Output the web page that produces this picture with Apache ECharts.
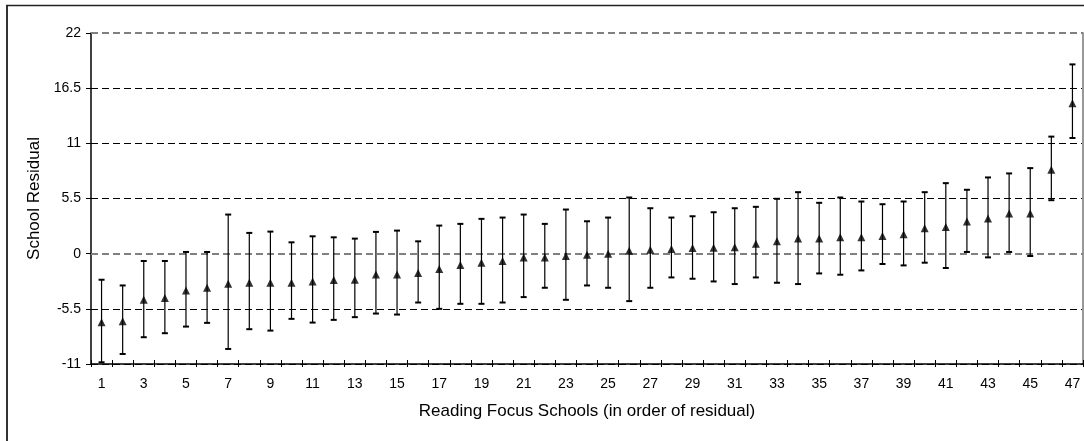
<!DOCTYPE html>
<html>
<head>
<meta charset="utf-8">
<script src="https://cdn.jsdelivr.net/npm/echarts@6/dist/echarts.min.js"></script>
<style>
  html, body { margin: 0; padding: 0; background: #fff; }
  #chart { width: 1084px; height: 441px; }
</style>
</head>
<body>
<div id="chart"></div>
<script>
// Schools ranked by residual, with the estimate and its interval
const schools = Array.from({ length: 47 }, (_, i) => String(i + 1));

const residual = [
  -6.83, -6.73, -4.60, -4.43, -3.67, -3.40, -3.00, -2.90, -2.90, -2.90,
  -2.77, -2.63, -2.60, -2.07, -2.07, -1.93, -1.53, -1.13, -0.90, -0.73,
  -0.37, -0.37, -0.23, -0.10, 0.00, 0.30, 0.40, 0.47, 0.57, 0.60,
  0.63, 1.00, 1.23, 1.50, 1.50, 1.63, 1.63, 1.77, 1.93, 2.53,
  2.67, 3.20, 3.50, 4.00, 4.00, 8.37, 15.00
];

const upper = [
  -2.60, -3.17, -0.73, -0.73, 0.17, 0.17, 3.90, 2.07, 2.20, 1.13,
  1.73, 1.63, 1.50, 2.17, 2.30, 1.23, 2.80, 2.97, 3.47, 3.60,
  3.90, 2.97, 4.40, 3.23, 3.60, 5.60, 4.53, 3.60, 3.73, 4.13,
  4.53, 4.67, 5.47, 6.13, 5.07, 5.60, 5.20, 4.93, 5.20, 6.13,
  7.03, 6.37, 7.60, 8.00, 8.53, 11.67, 18.87
];

const lower = [
  -10.83, -10.00, -8.33, -7.93, -7.27, -6.90, -9.50, -7.53, -7.67, -6.50,
  -6.87, -6.60, -6.33, -5.97, -6.07, -4.87, -5.50, -5.00, -5.00, -4.87,
  -4.33, -3.40, -4.60, -3.17, -3.40, -4.73, -3.40, -2.37, -2.50, -2.77,
  -3.03, -2.37, -2.90, -3.03, -1.97, -2.10, -1.67, -1.03, -1.17, -0.90,
  -1.43, 0.17, -0.37, 0.17, -0.23, 5.33, 11.53
];

const yMin = -11, yMax = 22, yStep = 5.5;

const FONT = "'Liberation Sans', Arial, sans-serif";

const intervals = schools.map((_, i) => [i, lower[i], upper[i]]);

const chart = echarts.init(document.getElementById('chart'), null, { renderer: 'canvas' });

chart.setOption({
  animation: false,
  backgroundColor: '#fff',
  textStyle: { fontFamily: FONT },
  grid: { left: 91, top: 33, right: 1, bottom: 77, containLabel: false },
  graphic: [
    { type: 'line', shape: { x1: 7, y1: 5, x2: 7, y2: 441 }, style: { stroke: '#333', lineWidth: 2 } },
    { type: 'line', shape: { x1: 6, y1: 5.5, x2: 1084, y2: 5.5 }, style: { stroke: '#222', lineWidth: 1.3 } }
  ],
  xAxis: [
    {
      type: 'category',
      data: schools,
      position: 'bottom',
      boundaryGap: true,
      name: 'Reading Focus Schools (in order of residual)',
      nameLocation: 'middle',
      nameGap: 39,
      nameTextStyle: { fontFamily: FONT, fontSize: 17, color: '#000' },
      axisLine: { show: true, onZero: false, lineStyle: { color: '#000', width: 1.5 } },
      axisTick: { show: true, interval: 0, inside: false, length: 3, lineStyle: { color: '#000' } },
      axisLabel: { interval: 1, margin: 13, fontFamily: FONT, fontSize: 14, color: '#000' },
      splitLine: { show: false }
    },
    {
      // inner half of the crossing tick marks
      type: 'category',
      data: schools,
      position: 'bottom',
      boundaryGap: true,
      axisLine: { show: false, onZero: false },
      axisTick: { show: true, interval: 0, inside: true, length: 4, lineStyle: { color: '#000' } },
      axisLabel: { show: false },
      splitLine: { show: false }
    }
  ],
  yAxis: [
    {
      type: 'value',
      min: yMin,
      max: yMax,
      interval: yStep,
      name: 'School Residual',
      nameLocation: 'middle',
      nameGap: 43,
      nameTextStyle: { fontFamily: FONT, fontSize: 17, color: '#000' },
      axisLine: { show: true, onZero: false, lineStyle: { color: '#000', width: 1.5 } },
      axisTick: { show: true, inside: false, length: 5, lineStyle: { color: '#000' } },
      axisLabel: { margin: 10, fontFamily: FONT, fontSize: 14, color: '#000' },
      splitLine: {
        show: true,
        lineStyle: {
          color: ['#000', '#000', 'transparent', '#000', '#000', '#000', 'transparent'],
          width: 1,
          type: [7, 4]
        }
      }
    },
    {
      type: 'value',
      min: yMin,
      max: yMax,
      interval: yStep,
      position: 'right',
      axisLine: { show: true, onZero: false, lineStyle: { color: '#999', width: 2 } },
      axisTick: { show: false },
      axisLabel: { show: false },
      splitLine: { show: false }
    }
  ],
  series: [
    {
      name: 'interval',
      type: 'custom',
      xAxisIndex: 0,
      yAxisIndex: 0,
      data: intervals,
      encode: { x: 0, y: [1, 2] },
      renderItem: function (params, api) {
        const idx = api.value(0);
        const lo = api.coord([idx, api.value(1)]);
        const hi = api.coord([idx, api.value(2)]);
        const cap = 3;
        return {
          type: 'group',
          children: [
            { type: 'line', shape: { x1: lo[0], y1: lo[1], x2: hi[0], y2: hi[1] }, style: { stroke: '#000', lineWidth: 1.2 } },
            { type: 'line', shape: { x1: lo[0] - cap, y1: lo[1], x2: lo[0] + cap, y2: lo[1] }, style: { stroke: '#000', lineWidth: 2 } },
            { type: 'line', shape: { x1: hi[0] - cap, y1: hi[1], x2: hi[0] + cap, y2: hi[1] }, style: { stroke: '#000', lineWidth: 2 } }
          ]
        };
      },
      z: 3
    },
    {
      name: 'residual',
      type: 'scatter',
      xAxisIndex: 0,
      yAxisIndex: 0,
      data: residual,
      symbol: 'triangle',
      symbolSize: 8,
      itemStyle: { color: '#000' },
      z: 4,
      markLine: {
        silent: true,
        symbol: 'none',
        label: { show: false },
        lineStyle: { color: '#808080', width: 2, type: [7, 4] },
        data: [{ yAxis: 0 }, { yAxis: 22 }],
        z: 1
      }
    }
  ]
});
</script>
</body>
</html>
